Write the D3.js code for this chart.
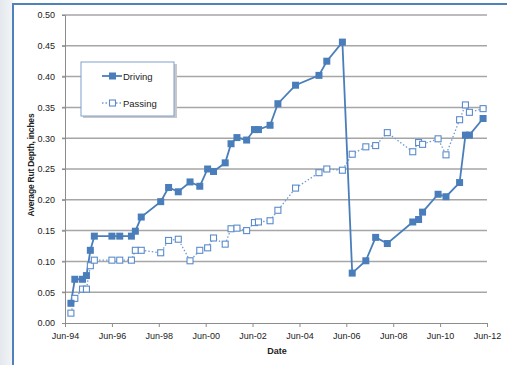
<!DOCTYPE html>
<html>
<head>
<meta charset="utf-8">
<script src="https://d3js.org/d3.v7.min.js"></script>
<style>
  body { margin: 0; background: #fff; }
  text { font-family: "Liberation Sans", Arial, sans-serif; fill: #222; }
</style>
</head>
<body>
<div id="chart"></div>
<script>
// survey dates (year-month), shared by both lanes
var dates = ["1994-09","1994-11","1995-03","1995-05","1995-07","1995-09","1996-06","1996-10",
  "1997-04","1997-06","1997-09","1998-07","1998-11","1999-04","1999-10","2000-03","2000-07",
  "2000-10","2001-04","2001-07","2001-10","2002-03","2002-07","2002-09","2003-03","2003-07",
  "2004-04","2005-04","2005-08","2006-04","2006-09","2007-04","2007-09","2008-03","2009-04",
  "2009-07","2009-09","2010-05","2010-09","2011-04","2011-07","2011-09","2012-04"];

var driving = [0.032,0.071,0.071,0.077,0.118,0.141,0.141,0.141,0.141,0.149,0.172,0.197,0.220,
  0.213,0.229,0.222,0.250,0.246,0.260,0.291,0.301,0.297,0.314,0.314,0.321,0.356,0.386,0.402,
  0.425,0.456,0.081,0.101,0.139,0.129,0.164,0.168,0.180,0.209,0.205,0.228,0.305,0.305,0.332];

var passing = [0.016,0.040,0.055,0.055,0.093,0.102,0.102,0.102,0.102,0.118,0.118,0.114,0.134,
  0.136,0.101,0.118,0.122,0.138,0.128,0.153,0.154,0.150,0.163,0.164,0.166,0.183,0.219,0.244,
  0.250,0.248,0.274,0.286,0.288,0.309,0.278,0.293,0.290,0.299,0.273,0.330,0.354,0.342,0.348];

var yTicks = [0,0.05,0.10,0.15,0.20,0.25,0.30,0.35,0.40,0.45,0.50];
var xTickYears = [1994,1996,1998,2000,2002,2004,2006,2008,2010,2012];

var W = 507, H = 365;
var blue = "#4a7ebb";
var margin = {top: 15, right: 20, bottom: 42, left: 65};

var parse = d3.timeParse("%Y-%m");
var rows = dates.map(function(d, i) {
  return {date: parse(d), drv: driving[i], pas: passing[i]};
});

var svg = d3.select("#chart").append("svg")
  .attr("width", W).attr("height", H);

// left backdrop strip and frame
var defs = svg.append("defs");
var grad = defs.append("linearGradient").attr("id", "side")
  .attr("x1", 0).attr("y1", 0).attr("x2", 1).attr("y2", 0);
grad.append("stop").attr("offset", "0%").attr("stop-color", "#e4e8ec");
grad.append("stop").attr("offset", "100%").attr("stop-color", "#f3f5f7");
svg.append("rect").attr("x", 0).attr("y", 0).attr("width", 13).attr("height", H)
  .attr("fill", "url(#side)");
svg.append("line").attr("x1", 13).attr("x2", 13).attr("y1", 4).attr("y2", H)
  .attr("stroke", "#4f81bd").attr("stroke-width", 2);
svg.append("line").attr("x1", 12).attr("x2", W).attr("y1", 4).attr("y2", 4)
  .attr("stroke", "#4f81bd").attr("stroke-width", 2);

var x = d3.scaleTime()
  .domain([new Date(1994, 5, 1), new Date(2012, 5, 1)])
  .range([margin.left, W - margin.right]);
var y = d3.scaleLinear()
  .domain([0, 0.5])
  .range([H - margin.bottom, margin.top]);

// gridlines
svg.append("g").selectAll("line")
  .data(yTicks.slice(1)).enter().append("line")
  .attr("x1", margin.left - 3).attr("x2", W - margin.right)
  .attr("y1", function(d) { return y(d); }).attr("y2", function(d) { return y(d); })
  .attr("stroke", "#a6a6a6").attr("stroke-width", 1.5);

// y axis
var yAxis = svg.append("g")
  .attr("transform", "translate(" + margin.left + ",0)")
  .call(d3.axisLeft(y).tickValues(yTicks).tickFormat(d3.format(".2f")).tickSize(3).tickPadding(7));
yAxis.selectAll("path, line").attr("stroke", "#8c8c8c");
yAxis.selectAll("text").style("font-size", "9px").attr("fill", "#1a1a1a")
  .style("font-family", "Liberation Sans, Arial, sans-serif");

// x axis
var xAxis = svg.append("g")
  .attr("transform", "translate(0," + (H - margin.bottom) + ")")
  .call(d3.axisBottom(x)
    .tickValues(xTickYears.map(function(yr) { return new Date(yr, 5, 1); }))
    .tickFormat(d3.timeFormat("%b-%y")).tickSize(4).tickPadding(6).tickSizeOuter(0));
xAxis.selectAll("path, line").attr("stroke", "#8c8c8c");
xAxis.selectAll("text").style("font-size", "9px").attr("fill", "#1a1a1a")
  .style("font-family", "Liberation Sans, Arial, sans-serif");

// axis titles
svg.append("text")
  .attr("x", (margin.left + W - margin.right) / 2 + 1).attr("y", 354)
  .attr("text-anchor", "middle").style("font-size", "9px").style("font-weight", "bold")
  .text("Date");
svg.append("text")
  .attr("transform", "translate(34,165) rotate(-90)")
  .attr("text-anchor", "middle").style("font-size", "8.5px").style("font-weight", "bold")
  .style("letter-spacing", "-0.2px")
  .text("Average Rut Depth, inches");

// lines
var lineDrv = d3.line().x(function(d) { return x(d.date); }).y(function(d) { return y(d.drv); });
var linePas = d3.line().x(function(d) { return x(d.date); }).y(function(d) { return y(d.pas); });

svg.append("path").datum(rows).attr("d", linePas)
  .attr("fill", "none").attr("stroke", "#6f9bd1").attr("stroke-width", 1.3)
  .attr("stroke-dasharray", "1.5,2");
svg.append("path").datum(rows).attr("d", lineDrv)
  .attr("fill", "none").attr("stroke", blue).attr("stroke-width", 1.8);

// markers
svg.append("g").selectAll("rect")
  .data(rows).enter().append("rect")
  .attr("x", function(d) { return x(d.date) - 3; })
  .attr("y", function(d) { return y(d.pas) - 3; })
  .attr("width", 6).attr("height", 6)
  .attr("fill", "#fff").attr("stroke", "#5b8ccb").attr("stroke-width", 1.1);
svg.append("g").selectAll("rect")
  .data(rows).enter().append("rect")
  .attr("x", function(d) { return x(d.date) - 3.5; })
  .attr("y", function(d) { return y(d.drv) - 3.5; })
  .attr("width", 7).attr("height", 7)
  .attr("fill", blue);

// legend
var lg = svg.append("g").attr("transform", "translate(81,62)");
lg.append("rect").attr("x", 2).attr("y", 2).attr("width", 94).attr("height", 54)
  .attr("fill", "#c8c8c8");
lg.append("rect").attr("width", 93).attr("height", 54)
  .attr("fill", "#fff").attr("stroke", "#7f9fcf").attr("stroke-width", 1);
lg.append("line").attr("x1", 21).attr("x2", 41).attr("y1", 14).attr("y2", 14)
  .attr("stroke", blue).attr("stroke-width", 1.8);
lg.append("rect").attr("x", 28).attr("y", 10.5).attr("width", 7).attr("height", 7).attr("fill", blue);
lg.append("text").attr("x", 42).attr("y", 17.5).style("font-size", "9.5px").text("Driving");
lg.append("line").attr("x1", 21).attr("x2", 41).attr("y1", 41).attr("y2", 41)
  .attr("stroke", "#6f9bd1").attr("stroke-width", 1.3).attr("stroke-dasharray", "1.5,2");
lg.append("rect").attr("x", 28.5).attr("y", 38).attr("width", 6).attr("height", 6)
  .attr("fill", "#fff").attr("stroke", "#5b8ccb").attr("stroke-width", 1.1);
lg.append("text").attr("x", 42).attr("y", 44.5).style("font-size", "9.5px").text("Passing");
</script>
</body>
</html>
